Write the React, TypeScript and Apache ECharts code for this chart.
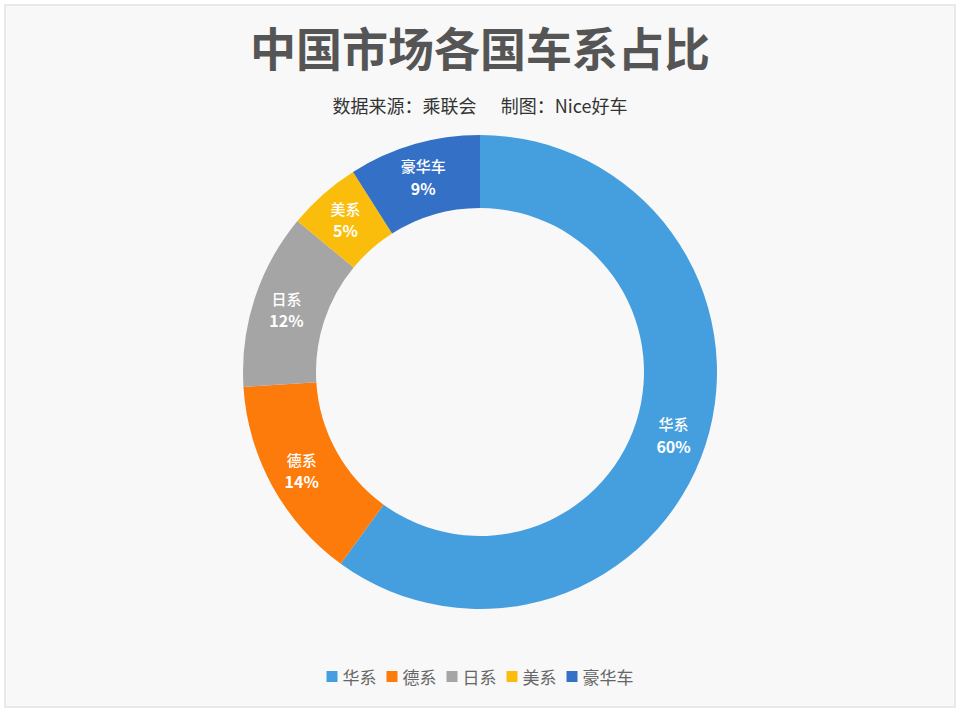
import React, { useEffect, useRef } from "react";
import * as echarts from "echarts";

const categories = ["华系", "德系", "日系", "美系", "豪华车"];
const shares = [60, 14, 12, 5, 9];
const colors = ["#459fde", "#fc7b0b", "#a5a5a5", "#fbbd0c", "#3470c6"];

const titleText = "中国市场各国车系占比";
const subtitleText = "数据来源：乘联会      制图：Nice好车";

export default function App() {
  const ref = useRef<HTMLDivElement>(null);
  useEffect(() => {
    if (!ref.current) return;
    const chart = echarts.init(ref.current, null, { renderer: "svg" });
    chart.setOption({
      animation: false,
      backgroundColor: "#ffffff",
      graphic: [
        {
          type: "rect",
          shape: { x: 5, y: 5, width: 950, height: 702 },
          style: { fill: "#f8f8f8", stroke: "#e2e2e2", lineWidth: 1.5 },
          z: -10,
          silent: true,
        },
      ],
      title: [
        {
          text: titleText,
          left: "center",
          top: 18,
          textStyle: {
            fontFamily: "Noto Sans CJK SC",
            fontSize: 46,
            fontWeight: "bold",
            color: "#555555",
          },
        },
        {
          text: subtitleText,
          left: "center",
          top: 91,
          textStyle: {
            fontFamily: "Noto Sans CJK SC",
            fontSize: 18,
            fontWeight: "normal",
            color: "#333333",
          },
        },
      ],
      legend: {
        bottom: 22,
        left: "center",
        icon: "rect",
        itemWidth: 11,
        itemHeight: 11,
        itemGap: 10,
        textStyle: {
          fontFamily: "Noto Sans CJK SC",
          fontSize: 17,
          color: "#666666",
        },
        data: categories,
      },
      color: colors,
      series: [
        {
          type: "pie",
          center: [480, 372],
          radius: [164, 237],
          startAngle: 90,
          clockwise: true,
          avoidLabelOverlap: false,
          itemStyle: { borderColor: "#f8f8f8", borderWidth: 0 },
          label: {
            show: true,
            position: "inside",
            formatter: (p: any) => `{n|${p.name}}\n{v|${p.value}%}`,
            rich: {
              n: {
                fontFamily: "Noto Sans CJK SC",
                fontSize: 15,
                fontWeight: 500,
                color: "#ffffff",
                lineHeight: 22,
              },
              v: {
                fontFamily: "Noto Sans CJK SC",
                fontSize: 16,
                fontWeight: "bold",
                color: "#ffffff",
                lineHeight: 22,
              },
            },
          },
          labelLine: { show: false },
          data: categories.map((c, i) => ({ name: c, value: shares[i] })),
        },
      ],
    });
    return () => chart.dispose();
  }, []);
  return (
    <div
      ref={ref}
      style={{ position: "fixed", left: 0, top: 0, width: 960, height: 712 }}
    />
  );
}
